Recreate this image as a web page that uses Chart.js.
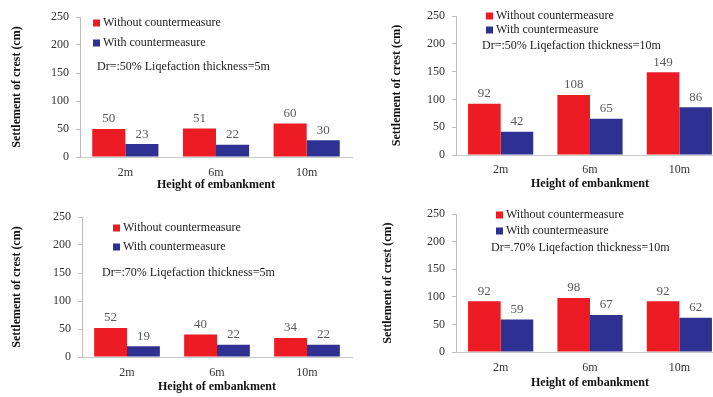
<!DOCTYPE html>
<html><head><meta charset="utf-8">
<script src="https://cdn.jsdelivr.net/npm/chart.js@4.4.1/dist/chart.umd.min.js"></script>
<style>
html,body{margin:0;padding:0;background:#fff;overflow:hidden;width:713px;height:397px;position:relative;}
.p{position:absolute;}
canvas{display:block;}
</style></head><body>
<div class="p" style="left:0px;top:0px"><canvas id="c1" width="356" height="198"></canvas></div>
<div class="p" style="left:360px;top:0px"><canvas id="c2" width="370" height="198"></canvas></div>
<div class="p" style="left:0px;top:200px"><canvas id="c3" width="356" height="197"></canvas></div>
<div class="p" style="left:360px;top:200px"><canvas id="c4" width="370" height="197"></canvas></div>
<script>
// ---- data ----
const categories = ['2m', '6m', '10m'];
const seriesLabels = ['Without countermeasure', 'With countermeasure'];
const yTickValues = [0, 50, 100, 150, 200, 250];
const without50_5 = [50, 51, 60];
const with50_5 = [23, 22, 30];
const without50_10 = [92, 108, 149];
const with50_10 = [42, 65, 86];
const without70_5 = [52, 40, 34];
const with70_5 = [19, 22, 22];
const without70_10 = [92, 98, 92];
const with70_10 = [59, 67, 62];
const notes = ['Dr=:50% Liqefaction thickness=5m', 'Dr=:50% Liqefaction thickness=10m',
               'Dr=:70% Liqefaction thickness=5m', 'Dr=.70% Liqefaction thickness=10m'];
const xTitle = 'Height of embankment';
const yTitle = 'Settlement of crest (cm)';

// ---- styling / layout ----
const RED = '#ed1c24', BLUE = '#2e3192';
const FONT = '"Liberation Serif", "Times New Roman", serif';
Chart.defaults.font.family = FONT;

const panels = [
  { id: 'c1', w: 356, h: 198, area: { l: 80, t: 17, r: 352, b: 157 }, yTitlePad: 10, xTitlePad: 6, xTickPad: 9,
    lg: { x: 93, y: 23, gap: 20 }, nt: { x: 97, y: 67 }, data: [without50_5, with50_5], note: notes[0] },
  { id: 'c2', w: 370, h: 198, area: { l: 96, t: 16, r: 364, b: 155 }, yTitlePad: 30, xTitlePad: 7, xTickPad: 8,
    lg: { x: 126, y: 16, gap: 14 }, nt: { x: 122, y: 46 }, data: [without50_10, with50_10], note: notes[1] },
  { id: 'c3', w: 356, h: 197, area: { l: 82, t: 17, r: 352, b: 157 }, yTitlePad: 10, xTitlePad: 3, xTickPad: 9,
    lg: { x: 113, y: 28, gap: 19 }, nt: { x: 102, y: 73 }, data: [without70_5, with70_5], note: notes[2] },
  { id: 'c4', w: 370, h: 197, area: { l: 96, t: 10, r: 364, b: 152 }, yTitlePad: 21, xTitlePad: 7, xTickPad: 9,
    lg: { x: 136, y: 15, gap: 16 }, nt: { x: 131, y: 48 }, data: [without70_10, with70_10], note: notes[3] }
];

const overlay = {
  id: 'overlay',
  afterDatasetsDraw(chart, args, o) {
    const ctx = chart.ctx;
    ctx.save();
    // value labels
    ctx.font = '13px ' + FONT;
    ctx.fillStyle = '#5a5a5a';
    ctx.textAlign = 'center';
    ctx.textBaseline = 'middle';
    chart.data.datasets.forEach((ds, i) => {
      chart.getDatasetMeta(i).data.forEach((el, j) => {
        ctx.fillText(String(ds.data[j]), el.x, el.y - 10);
      });
    });
    // legend
    ctx.font = '12px ' + FONT;
    ctx.textAlign = 'left';
    chart.data.datasets.forEach((ds, i) => {
      const cy = o.lg.y + i * o.lg.gap;
      ctx.fillStyle = ds.backgroundColor;
      ctx.fillRect(o.lg.x, cy - 3.5, 7, 7);
      ctx.fillStyle = '#222';
      ctx.fillText(ds.label, o.lg.x + 10, cy);
    });
    // note
    ctx.fillStyle = '#222';
    ctx.fillText(o.note, o.nt.x, o.nt.y);
    ctx.restore();
  }
};

panels.forEach(p => {
  new Chart(document.getElementById(p.id), {
    type: 'bar',
    data: {
      labels: categories,
      datasets: [
        { label: seriesLabels[0], data: p.data[0], backgroundColor: RED },
        { label: seriesLabels[1], data: p.data[1], backgroundColor: BLUE }
      ]
    },
    options: {
      responsive: false,
      animation: false,
      devicePixelRatio: 1,
      layout: { padding: { top: p.area.t, right: p.w - p.area.r, bottom: 0, left: 0 } },
      datasets: { bar: { categoryPercentage: 0.73, barPercentage: 1.0 } },
      plugins: {
        legend: { display: false },
        tooltip: { enabled: false },
        overlay: { lg: p.lg, nt: p.nt, note: p.note }
      },
      scales: {
        x: {
          grid: { display: true, drawOnChartArea: false, drawTicks: false },
          border: { display: true, color: '#c8c8c8' },
          ticks: { color: '#333', font: { size: 12 }, padding: p.xTickPad },
          title: { display: true, text: xTitle, color: '#111', font: { size: 12, weight: 'bold' },
                   padding: { top: 0, bottom: p.xTitlePad } },
          afterFit(s) { s.height = p.h - p.area.b; }
        },
        y: {
          min: 0, max: 250,
          afterBuildTicks(s) { s.ticks = yTickValues.map(v => ({ value: v })); },
          grid: { display: true, drawOnChartArea: false, drawTicks: true, tickLength: 4, color: '#bdbdbd' },
          border: { display: true, color: '#bdbdbd' },
          ticks: { color: '#333', font: { size: 12 }, padding: 7 },
          title: { display: true, text: yTitle, color: '#111', font: { size: 12, weight: 'bold' },
                   padding: { top: p.yTitlePad, bottom: 0 } },
          afterFit(s) { s.width = p.area.l; }
        }
      }
    },
    plugins: [overlay]
  });
});
</script>
</body></html>
